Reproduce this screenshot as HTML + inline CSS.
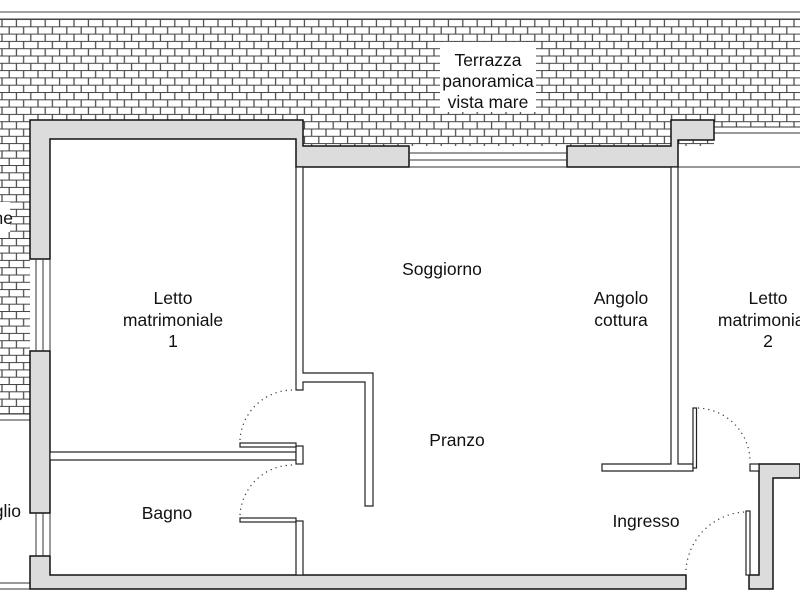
<!DOCTYPE html>
<html><head><meta charset="utf-8"><style>
html,body{margin:0;padding:0;background:#fff;}
svg{display:block;}
text{font-family:"Liberation Sans",Arial,sans-serif;font-size:17.5px;fill:#111;}
</style></head><body>
<svg width="800" height="600" viewBox="0 0 800 600" xmlns="http://www.w3.org/2000/svg">
<defs>
<pattern id="brick" x="0" y="19" width="14.4" height="14.6" patternUnits="userSpaceOnUse">
<rect width="14.4" height="14.6" fill="#fff"/>
<line x1="0" y1="0.5" x2="14.4" y2="0.5" stroke="#444" stroke-width="1"/>
<line x1="0" y1="7.8" x2="14.4" y2="7.8" stroke="#444" stroke-width="1"/>
<line x1="2" y1="0" x2="2" y2="7.8" stroke="#444" stroke-width="1.2"/>
<line x1="9.2" y1="7.8" x2="9.2" y2="14.6" stroke="#444" stroke-width="1.2"/>
</pattern>
</defs>
<line x1="0" y1="12" x2="800" y2="12" stroke="#444" stroke-width="1"/>
<rect x="0" y="19" width="800" height="127" fill="url(#brick)"/>
<rect x="0" y="146" width="30" height="268" fill="url(#brick)"/>
<line x1="0" y1="19" x2="800" y2="19" stroke="#444"/>
<rect x="714" y="127" width="86" height="40" fill="#fff"/>
<line x1="714" y1="127" x2="800" y2="127" stroke="#333"/>
<line x1="714" y1="133" x2="800" y2="133" stroke="#333"/>
<polygon points="50,139 296,139 296,167 800,167 800,575 50,575" fill="#fff"/>
<line x1="0" y1="414" x2="30" y2="414" stroke="#333"/>
<line x1="0" y1="420" x2="30" y2="420" stroke="#333"/>
<line x1="0" y1="583" x2="30" y2="583" stroke="#333"/>
<line x1="0" y1="589" x2="30" y2="589" stroke="#333"/>
<rect x="440" y="42" width="96" height="70" fill="#fff"/>
<text x="488" y="66" text-anchor="middle">Terrazza</text>
<text x="488" y="87" text-anchor="middle">panoramica</text>
<text x="488" y="108" text-anchor="middle">vista mare</text>
<rect x="0" y="202" width="10" height="30" fill="#fff"/>
<text x="13" y="224" text-anchor="end">ne</text>
<text x="21" y="517" text-anchor="end">glio</text>
<g fill="#dcdcdc" stroke="#111" stroke-width="1.5">
<polygon points="30,120 303,120 303,146 409,146 409,167 296,167 296,139 50,139 50,259 30,259"/>
<polygon points="567,146 671,146 671,120 714,120 714,140 678,140 678,167 567,167"/>
<rect x="30" y="351" width="20" height="162"/>
<polygon points="30,556 50,556 50,575 686,575 686,589 30,589"/>
<polygon points="759,464 800,464 800,478 773,478 773,589 749,589 749,575 759,575"/>
</g>
<g stroke="#333" stroke-width="1" fill="none">
<line x1="409" y1="153" x2="567" y2="153"/><line x1="409" y1="160" x2="567" y2="160"/>
<line x1="409" y1="167" x2="567" y2="167"/>
<line x1="36" y1="259" x2="36" y2="351"/><line x1="43" y1="259" x2="43" y2="351"/><line x1="50" y1="259" x2="50" y2="351"/>
<line x1="36" y1="513" x2="36" y2="556"/><line x1="43" y1="513" x2="43" y2="556"/><line x1="50" y1="513" x2="50" y2="556"/>
<line x1="678" y1="167" x2="800" y2="167"/>
</g>
<g fill="#fff" stroke="#222" stroke-width="1.2">
<polygon points="296,167 303,167 303,373 373,373 373,506 365,506 365,382 303,382 303,390 296,390"/>
<rect x="50" y="452" width="246" height="8"/>
<rect x="296" y="446" width="7" height="18"/>
<rect x="240" y="443" width="56" height="4"/>
<rect x="240" y="518" width="56" height="4"/>
<rect x="296" y="521" width="7" height="54"/>
<polygon points="671,167 678,167 678,464 693,464 693,471 602,471 602,464 671,464"/>
<rect x="693" y="408" width="3.5" height="60"/>
<rect x="750" y="464" width="9" height="7"/>
<rect x="746" y="511" width="4" height="64"/>
</g>
<g fill="none" stroke="#333" stroke-width="1.2" stroke-dasharray="1.2,4">
<path d="M240,440 A53,53 0 0 1 293,390"/>
<path d="M240,515 A53,53 0 0 1 293,465"/>
<path d="M698,408 A54,54 0 0 1 750,460"/>
<path d="M686,570 A62,62 0 0 1 745,512"/>
</g>
<g text-anchor="middle">
<text x="442" y="275">Soggiorno</text>
<text x="173" y="304">Letto</text>
<text x="173" y="326">matrimoniale</text>
<text x="173" y="347">1</text>
<text x="621" y="304">Angolo</text>
<text x="621" y="326">cottura</text>
<text x="768" y="304">Letto</text>
<text x="768" y="326">matrimoniale</text>
<text x="768" y="347">2</text>
<text x="457" y="446">Pranzo</text>
<text x="167" y="519">Bagno</text>
<text x="646" y="527">Ingresso</text>
</g>
</svg>
</body></html>
